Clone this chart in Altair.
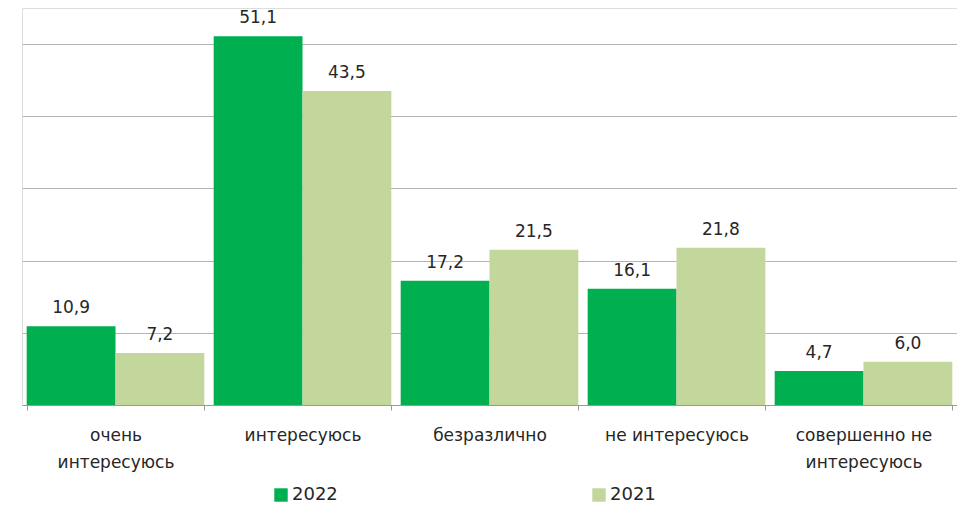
import altair as alt
import pandas as pd

categories = ["очень\nинтересуюсь", "интересуюсь", "безразлично", "не интересуюсь", "совершенно не\nинтересуюсь"]
series = ["2022", "2021"]
values_2022 = [10.9, 51.1, 17.2, 16.1, 4.7]
values_2021 = [7.2, 43.5, 21.5, 21.8, 6.0]
colors = ["#00B050", "#C3D69B"]
grid_values = [10, 20, 30, 40, 50]

rows = []
for c, a, b in zip(categories, values_2022, values_2021):
    rows.append({"cat": c, "year": "2022", "v": a, "lbl": f"{a:.1f}".replace(".", ",")})
    rows.append({"cat": c, "year": "2021", "v": b, "lbl": f"{b:.1f}".replace(".", ",")})
df = pd.DataFrame(rows)

FONT = "DejaVu Sans"

x = alt.X("cat:N", sort=categories, title=None,
          scale=alt.Scale(paddingInner=0.05, paddingOuter=0.025),
          axis=alt.Axis(labelAngle=0, labelExpr="split(datum.label, '\\n')",
                        labelFontSize=17, labelFont=FONT, labelColor="#262626",
                        labelPadding=17, labelLineHeight=27, labelBaseline="top",
                        tickBand="extent", tickSize=5, tickColor="#999999",
                        domainColor="#999999", grid=False))
xo = alt.XOffset("year:N", sort=series, scale=alt.Scale(domain=series, paddingInner=0.0))
y = alt.Y("v:Q", title=None, scale=alt.Scale(domain=[0, 55], nice=False),
          axis=alt.Axis(values=grid_values, labels=False, ticks=False, domain=False,
                        grid=True, gridColor="#b5b5b5", gridWidth=1))

bars = alt.Chart(df).mark_bar().encode(
    x=x, xOffset=xo, y=y,
    color=alt.Color("year:N", sort=series,
                    scale=alt.Scale(domain=series, range=colors),
                    legend=alt.Legend(title=None, orient="none", legendX=250, legendY=478,
                                      direction="horizontal", symbolType="square",
                                      symbolSize=180, symbolStrokeWidth=0,
                                      labelFontSize=18, labelFont=FONT, labelColor="#262626",
                                      columnPadding=252, symbolOffset=0, labelOffset=2)),
)

text = alt.Chart(df).mark_text(baseline="middle", dy=-18, fontSize=17, font=FONT,
                               color="#262626").encode(
    x=alt.X("cat:N", sort=categories), xOffset=xo, y="v:Q", text="lbl:N")

chart = alt.layer(bars, text).properties(
    width=935, height=397,
    autosize=alt.AutoSizeParams(type="none"),
    padding={"left": 14, "top": 0, "right": 0, "bottom": 99},
).configure_view(stroke=None).configure(background="white")

chart.save("out.html", embed_options={"renderer": "svg", "actions": False})
